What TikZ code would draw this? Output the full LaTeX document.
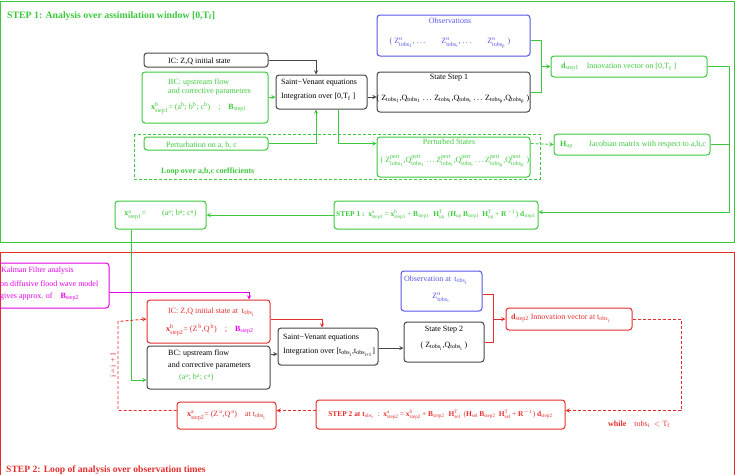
\documentclass[tikz,border=0pt]{standalone}
\usepackage{amsmath}
\usepackage{fontspec}
\setmainfont{Liberation Serif}
\usetikzlibrary{positioning,shapes,arrows}

\definecolor{figgreen}{RGB}{60,200,60}
\definecolor{figred}{RGB}{228,45,45}
\definecolor{figblue}{RGB}{85,85,230}
\definecolor{figmag}{RGB}{228,0,228}
\definecolor{figgray}{RGB}{70,70,70}

\newcommand{\tx}[1]{\text{#1}}
\newcommand{\tobs}[1]{\tx{tobs}_{\tx{#1}}}

\tikzset{
  box/.style={draw, rounded corners=3pt, line width=1pt, inner sep=0pt},
  gbox/.style={box, draw=figgreen},
  rbox/.style={box, draw=figred},
  bbox/.style={box, draw=figblue},
  mbox/.style={box, draw=figmag},
  kbox/.style={box, draw=figgray},
  txt/.style={inner sep=0pt, font=\fontsize{8}{9.5}\selectfont},
  eqtxt/.style={inner sep=0pt, font=\fontsize{7.4}{9}\selectfont},
  gline/.style={draw=figgreen, line width=0.9pt},
  rline/.style={draw=figred, line width=0.9pt},
  gdash/.style={gline, densely dashed},
  rdash/.style={rline, densely dashed},
}

\begin{document}
\begin{tikzpicture}[x=1pt, y=-1pt, >=stealth]
    \useasboundingbox (0,0) rectangle (739,474);

    % frames of the two steps
    \draw[figgreen, line width=1pt] (0,1) rectangle (734,242);
    \draw[figred, line width=1pt] (0,480) -- (0,252) -- (734,252) -- (734,480);
    \node[txt, anchor=west, text=figgreen, font=\fontsize{9.8}{11}\selectfont\bfseries] (title1) at (7,16) {STEP 1: Analysis over assimilation window [0,T$_{\tx{f}}$]};
    \node[txt, anchor=west, text=figred, font=\fontsize{9.6}{11}\selectfont\bfseries] (title2) at (6,470) {STEP 2: Loop of analysis over observation times};

    % STEP 1 boxes
    \node[kbox, minimum width=124, minimum height=14] (ic1) at (206,60) {};
    \node[txt, anchor=west] at (168,61) {IC: Z,Q initial state};

    \node[gbox, minimum width=126, minimum height=51] (bc1) at (205,97.5) {};
    \node[txt, anchor=west, text=figgreen] at (168,83) {BC: upstream flow};
    \node[txt, anchor=west, text=figgreen] at (168,91.5) {and corrective parameters};
    \node[txt, anchor=west, text=figgreen] at (151,108) {\textbf{x}$^{\tx{b}}_{\tx{step1}}$= (a$^{\tx{b}}$; b$^{\tx{b}}$; c$^{\tx{b}}$)\quad ;\quad \textbf{B}$_{\tx{step1}}$};

    \node[kbox, minimum width=91, minimum height=34] (sv1) at (321.5,92) {};
    \node[txt, anchor=west] at (281,83) {Saint−Venant equations};
    \node[txt, anchor=west] at (281,97) {Integration over [0,T$_{\tx{f}}$ ]};

    \node[gbox, minimum width=124, minimum height=13] (pert1) at (206,143.5) {};
    \node[txt, anchor=west, text=figgreen] at (166,145) {Perturbation on a, b, c};

    \draw[gdash] (134,134) rectangle (540,179);
    \node[txt, anchor=west, text=figgreen, font=\fontsize{8}{9.5}\selectfont\bfseries] (loop1) at (161,172) {Loop over a,b,c coefficients};

    \node[bbox, minimum width=153, minimum height=41] (obs1) at (453.5,35.5) {};
    \node[txt, text=figblue] at (450,21) {Observations};
    \node[txt, text=figblue] at (450,43) {( Z$^{\tx{o}}_{\tobs{1}}$, .\,.\,.\qquad Z$^{\tx{o}}_{\tobs{i}}$, .\,.\,.\qquad Z$^{\tx{o}}_{\tobs{p}}$ )};

    \node[kbox, minimum width=153, minimum height=40] (st1) at (453.5,92) {};
    \node[txt] at (449,78) {State Step 1};
    \node[txt] at (453,99) {( Z$_{\tobs{1}}$,Q$_{\tobs{1}}$ .\,.\,. Z$_{\tobs{i}}$,Q$_{\tobs{i}}$ .\,.\,. Z$_{\tobs{p}}$,Q$_{\tobs{p}}$ )};

    \node[gbox, minimum width=153, minimum height=40] (ps1) at (453.5,157) {};
    \node[txt, text=figgreen] at (449,142) {Perturbed States};
    \node[txt, text=figgreen] at (455,161) {( Z$^{\tx{pert}}_{\tobs{1}}$,Q$^{\tx{pert}}_{\tobs{1}}$\,.\,.\,.\,Z$^{\tx{pert}}_{\tobs{i}}$,Q$^{\tx{pert}}_{\tobs{i}}$\,.\,.\,.\,Z$^{\tx{pert}}_{\tobs{p}}$,Q$^{\tx{pert}}_{\tobs{p}}$ )};

    \node[gbox, minimum width=156, minimum height=21] (d1) at (629,66.5) {};
    \node[txt, anchor=west, text=figgreen] at (561,67) {\textbf{d}$_{\tx{step1}}$\quad Innovation vector on [0,T$_{\tx{f}}$ ]};

    \node[gbox, minimum width=156, minimum height=21] (hup) at (632,144.5) {};
    \node[txt, anchor=west, text=figgreen] at (560,145) {\textbf{H}$_{\tx{up}}$\qquad Jacobian matrix with respect to a,b,c};

    \node[gbox, minimum width=204, minimum height=28] (eq1) at (436,215) {};
    \node[eqtxt, text=figgreen] at (436,215) {\textbf{STEP 1 :}\ \ \textbf{x}$^{\tx{a}}_{\tx{step1}}$\,= \textbf{x}$^{\tx{b}}_{\tx{step1}}$\,+ \textbf{B}$_{\tx{step1}}$\; \textbf{H}$^{\tx{T}}_{\tx{up}}$\, (\textbf{H}$_{\tx{up}}$\,\textbf{B}$_{\tx{step1}}$\, \textbf{H}$^{\tx{T}}_{\tx{up}}$\,+ \textbf{R}$^{-1}$) \textbf{d}$_{\tx{step1}}$};

    \node[gbox, minimum width=91, minimum height=28] (xa1) at (160.5,215) {};
    \node[txt, text=figgreen] at (160.5,215) {\textbf{x}$^{\tx{a}}_{\tx{step1}}$=\qquad (a$^{\tx{a}}$; b$^{\tx{a}}$; c$^{\tx{a}}$)};

    % STEP 1 connectors
    \coordinate (j1) at (541,66.5);
    \coordinate (r1) at (729,0);
    \draw[->, figgray, line width=0.9pt] (ic1.east) -| ([xshift=-5.5pt]sv1.north);
    \draw[->, gline] (bc1.east |- 0,97) -- (sv1.west |- 0,97);
    \draw[->, gline] (pert1.east) -| ([xshift=-5.5pt]sv1.south);
    \draw[->, gline] ([xshift=16.5pt]sv1.south) |- (pert1.east -| ps1.west);
    \draw[->, figgray, line width=0.9pt] (sv1.east |- 0,97) -- (st1.west |- 0,97);
    \draw[gline] ([yshift=-4.5pt]obs1.east) -| (j1);
    \draw[gline] (st1.east) -| (j1);
    \draw[->, gline] (j1) -- (d1.west);
    \draw[->, gdash] (pert1.east -| ps1.east) -- (hup.west);
    \draw[->, gline] (d1.east) -- (d1.east -| r1) |- ([yshift=3pt]eq1.east);
    \draw[gline] (hup.east) -- (hup.east -| r1);
    \draw[->, gline] (eq1.west) -- (xa1.east);

    % STEP 2 boxes
    \node[mbox, minimum width=114, minimum height=45] (kal) at (52,285.5) {};
    \node[txt, anchor=west, text=figmag] at (1,271) {Kalman Filter analysis};
    \node[txt, anchor=west, text=figmag] at (0,284) {on diffusive flood wave model};
    \node[txt, anchor=west, text=figmag] at (0,297) {gives approx. of\quad \textbf{B}$_{\tx{step2}}$};

    \node[rbox, minimum width=123, minimum height=43] (ic2) at (208.5,321.5) {};
    \node[txt, anchor=west, text=figred] at (168,312) {IC: Z,Q initial state at\, t$_{\tx{obs}_{\tx{i}}}$};
    \node[txt, anchor=west, text=figred] at (166,330) {\textbf{x}$^{\tx{b}}_{\tx{step2}}$= (Z$^{\tx{\,b}}$,Q$^{\tx{\,b}}$)\quad ;\quad \textcolor{figmag}{\textbf{B}$_{\tx{step2}}$}};

    \node[kbox, minimum width=123, minimum height=43] (bc2) at (208.5,367.5) {};
    \node[txt, anchor=west] at (168,354) {BC: upstream flow};
    \node[txt, anchor=west] at (168,365.5) {and corrective parameters};
    \node[txt, anchor=west, text=figgreen] at (179,378) {(a$^{\tx{a}}$; b$^{\tx{a}}$; c$^{\tx{a}}$)};

    \node[kbox, minimum width=100, minimum height=37] (sv2) at (328,346.5) {};
    \node[txt, anchor=west] at (283,338) {Saint−Venant equations};
    \node[txt, anchor=west] at (283,352) {Integration over [t$_{\tx{obs}_{\tx{i}}}$,t$_{\tx{obs}_{\tx{i+1}}}$]};

    \node[kbox, minimum width=80, minimum height=40] (st2) at (444,342) {};
    \node[txt] at (444,330) {State Step 2};
    \node[txt] at (444,346) {( Z$_{\tobs{i}}$,Q$_{\tobs{i}}$ )};

    \node[bbox, minimum width=81, minimum height=40] (ob2) at (441.5,291) {};
    \node[txt, anchor=west, text=figblue] at (404,280) {Observation at\, t$_{\tx{obs}_{\tx{i}}}$};
    \node[txt, text=figblue] at (441,298) {Z$^{\tx{o}}_{\tobs{i}}$};

    \node[rbox, minimum width=126, minimum height=22] (d2) at (569,319) {};
    \node[txt, anchor=west, text=figred] at (511,318) {\textbf{d}$_{\tx{step2}}$\ Innovation vector at t$_{\tx{obs}_{\tx{i}}}$};

    \node[rbox, minimum width=249, minimum height=29] (eq2) at (440.5,414.5) {};
    \node[eqtxt, text=figred] at (440.5,415) {\textbf{STEP 2 at t}$_{\tx{obs}_{\tx{i}}}$\ \ :\ \ \textbf{x}$^{\tx{a}}_{\tx{step2}}$\,= \textbf{x}$^{\tx{b}}_{\tx{step2}}$\,+ \textbf{B}$_{\tx{step2}}$\; \textbf{H}$^{\tx{T}}_{\tx{sel}}$\, (\textbf{H}$_{\tx{sel}}$\,\textbf{B}$_{\tx{step2}}$\, \textbf{H}$^{\tx{T}}_{\tx{sel}}$\,+ \textbf{R}$^{-1}$) \textbf{d}$_{\tx{step2}}$};

    \node[rbox, minimum width=99, minimum height=27] (xa2) at (226.5,415.5) {};
    \node[txt, text=figred] at (226.5,415.5) {\textbf{x}$^{\tx{a}}_{\tx{step2}}$= (Z$^{\tx{\,a}}$,Q$^{\tx{\,a}}$)\quad at t$_{\tx{obs}_{\tx{i}}}$};

    \node[txt, text=figred, anchor=west] (while2) at (608,424) {\textbf{while}\quad tobs$_{\tx{i}}$\ \ $<$ T$_{\tx{f}}$};
    \node[txt, text=figred, rotate=90] (incr) at (113,365) {i = i + 1};

    % STEP 2 connectors
    \coordinate (j2) at (493,319);
    \coordinate (r2) at (681,0);
    \coordinate (l2) at (118,0);
    \draw[->, gline] ([xshift=-29.5pt]xa1.south) |- ([yshift=-12.5pt]bc2.west);
    \draw[->, draw=figmag, line width=0.9pt] ([yshift=-6.5pt]kal.east) -| ([xshift=40.5pt]ic2.north);
    \draw[->, rline] ([yshift=2.5pt]ic2.east) -| ([xshift=-6pt]sv2.north);
    \draw[->, figgray, line width=0.9pt] ([yshift=13.5pt]bc2.east) -- ([yshift=13.5pt]bc2.east -| sv2.west);
    \draw[->, figgray, line width=0.9pt] ([yshift=-1.5pt]sv2.east) -- ([yshift=-1.5pt]sv2.east -| st2.west);
    \draw[rline] ([yshift=-3pt]ob2.east) -| (j2);
    \draw[rline] (st2.east) -| (j2);
    \draw[->, rline] (j2) -- (d2.west);
    \draw[->, rdash] (d2.east) -- (d2.east -| r2) |- ([yshift=4pt]eq2.east);
    \draw[->, rdash] ([yshift=4pt]eq2.west) -- ([yshift=4pt]eq2.west -| xa2.east);
    \draw[->, rdash] ([yshift=5pt]xa2.west) -| (l2 |- ic2.west) -- ([yshift=2.5pt]ic2.west);
\end{tikzpicture}
\end{document}
